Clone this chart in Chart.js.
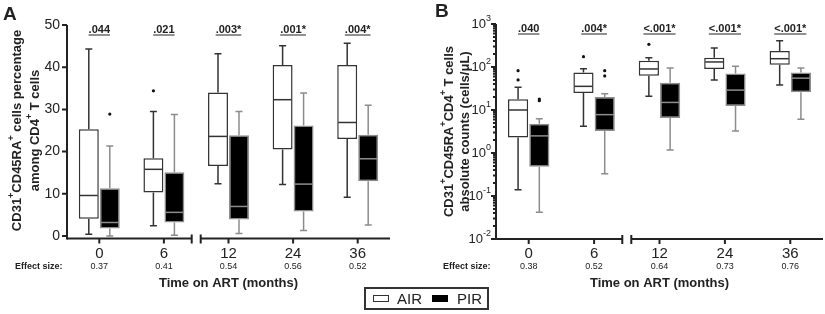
<!DOCTYPE html>
<html>
<head>
<meta charset="utf-8">
<script src="https://cdn.jsdelivr.net/npm/chart.js@4.4.1/dist/chart.umd.min.js"></script>
<style>
  body { margin: 0; background: #fff; width: 825px; height: 314px; overflow: hidden; position: relative;
         font-family: "Liberation Sans", Arial, sans-serif; color: #222; }
  #wrapA { position: absolute; left: 0; top: 0; }
  #wrapB { position: absolute; left: 410px; top: 0; }
  #legend { position: absolute; left: 364px; top: 287px; width: 121px; height: 19px; border: 2px solid #333;
            font-size: 15px; line-height: 19px; }
  #legend span { position: absolute; top: 0; }
  .sw { position: absolute; top: 6px; width: 16px; height: 7px; box-sizing: border-box; }
</style>
</head>
<body>
<div id="wrapA"><canvas id="chartA" width="410" height="314"></canvas></div>
<div id="wrapB"><canvas id="chartB" width="415" height="314"></canvas></div>
<div id="legend">
  <div class="sw" style="left:7px;border:1.5px solid #333;background:#fff"></div><span style="left:31px">AIR</span>
  <div class="sw" style="left:66px;background:#000"></div><span style="left:91px">PIR</span>
</div>
<script>
// categories and labels
const months = ['0', '6', '12', '24', '36'];
const effectA = ['0.37', '0.41', '0.54', '0.56', '0.52'];
const effectB = ['0.38', '0.52', '0.64', '0.73', '0.76'];
const pValA = ['.044', '.021', '.003*', '.001*', '.004*'];
const pValB = ['.040', '.004*', '<.001*', '<.001*', '<.001*'];

// panel A, % of CD4 T cells: [min, q1, median, q3, max]
const airPct = [[0.4, 4.1, 9.6, 25.3, 44.3], [2.4, 10.3, 15.8, 18.4, 29.5], [12.4, 16.6, 23.6, 34.0, 43.2],
                [12.2, 20.5, 32.3, 40.5, 45.1], [9.2, 23.0, 26.9, 40.5, 45.7]];
const pirPct = [[0, 1.8, 3.2, 11.3, 21.3], [0.2, 3.2, 5.6, 15.1, 28.8], [0.6, 3.9, 7.0, 23.9, 29.5],
                [1.3, 5.8, 12.3, 26.2, 33.9], [2.6, 13.0, 18.3, 24.0, 31.0]];
const airPctOut = [[], [34.4], [], [], []];
const pirPctOut = [[28.9], [], [], [], []];

// panel B, cells/uL: [min, q1, median, q3, max]
const airAbs = [[0.14, 2.3, 10, 17.7, 34], [4.2, 25, 35.5, 74, 91], [21, 63, 90, 140, 165],
                [50, 90, 131, 165, 277], [38, 113, 156, 235, 409]];
const pirAbs = [[0.042, 0.48, 2.5, 4.8, 6.3], [0.33, 3.25, 7.8, 20, 24], [1.17, 6.5, 15, 43, 95],
                [3.25, 12.4, 29, 71, 104], [6.1, 26, 55, 74, 95]];
const airAbsOut = [[82, 50], [174], [336], [], []];
const pirAbsOut = [[18, 16.5], [82, 62], [], [], []];

const pctTicks = [0, 10, 20, 30, 40, 50];
const logExp = [-2, -1, 0, 1, 2, 3];

const FONT = '"Liberation Sans", Arial, sans-serif';
const AIR_LINE = '#333', PIR_LINE = '#8c8c8c';

// text with ^sup^ parts
function drawRich(ctx, str, x, y, size, weight, align) {
  const parts = str.split('^');
  let w = 0;
  parts.forEach((t, k) => {
    ctx.font = `${weight} ${k % 2 ? Math.round(size * 0.7) : size}px ${FONT}`;
    w += ctx.measureText(t).width;
  });
  let cx = align === 'right' ? x - w : align === 'center' ? x - w / 2 : x;
  ctx.textAlign = 'left';
  ctx.textBaseline = 'middle';
  parts.forEach((t, k) => {
    ctx.font = `${weight} ${k % 2 ? Math.round(size * 0.7) : size}px ${FONT}`;
    ctx.fillText(t, cx, k % 2 ? y - size * 0.42 : y);
    cx += ctx.measureText(t).width;
  });
}

function text(ctx, str, x, y, size, weight, align) {
  ctx.font = `${weight} ${size}px ${FONT}`;
  ctx.textAlign = align || 'center';
  ctx.textBaseline = 'middle';
  ctx.fillText(str, x, y);
}

function makePlugin(cfg) {
  return {
    id: 'boxes',
    afterDatasetsDraw(chart) {
      const ctx = chart.ctx, ys = chart.scales.y;
      cfg.series.forEach((s, di) => {
        chart.getDatasetMeta(di).data.forEach((bar, i) => {
          const [mn, q1, md, q3, mx] = s.stats[i];
          const cx = bar.x, hw = bar.width / 2, cap = 3.5;
          ctx.save();
          ctx.strokeStyle = s.line;
          ctx.lineWidth = 1.5;
          ctx.beginPath();
          ctx.moveTo(cx, ys.getPixelForValue(q3)); ctx.lineTo(cx, ys.getPixelForValue(mx));
          ctx.moveTo(cx - cap, ys.getPixelForValue(mx)); ctx.lineTo(cx + cap, ys.getPixelForValue(mx));
          ctx.moveTo(cx, ys.getPixelForValue(q1)); ctx.lineTo(cx, ys.getPixelForValue(mn));
          ctx.moveTo(cx - cap, ys.getPixelForValue(mn)); ctx.lineTo(cx + cap, ys.getPixelForValue(mn));
          ctx.stroke();
          ctx.beginPath();
          ctx.moveTo(cx - hw + 1, ys.getPixelForValue(md)); ctx.lineTo(cx + hw - 1, ys.getPixelForValue(md));
          ctx.stroke();
          ctx.fillStyle = '#111';
          s.out[i].forEach(v => {
            ctx.beginPath();
            ctx.arc(cx, ys.getPixelForValue(v), 1.6, 0, Math.PI * 2);
            ctx.fill();
          });
          ctx.restore();
        });
      });
    },
    afterDraw(chart) {
      const ctx = chart.ctx, xs = chart.scales.x, ys = chart.scales.y, a = chart.chartArea;
      const axisY = a.bottom + cfg.axisDrop;
      ctx.save();
      ctx.strokeStyle = '#222';
      ctx.fillStyle = '#222';
      ctx.lineWidth = 2;
      // y axis
      ctx.beginPath();
      ctx.moveTo(a.left, a.top); ctx.lineTo(a.left, axisY + 1);
      cfg.yTicks(ctx, ys, a);
      ctx.stroke();
      // x axis with break between 6 and 12
      const brk = (xs.getPixelForValue(1) + xs.getPixelForValue(2)) / 2;
      ctx.beginPath();
      ctx.moveTo(a.left, axisY); ctx.lineTo(brk - 4.5, axisY);
      ctx.moveTo(brk - 4.5, axisY - 4); ctx.lineTo(brk - 4.5, axisY + 5);
      ctx.moveTo(brk + 4.5, axisY - 4); ctx.lineTo(brk + 4.5, axisY + 5);
      ctx.moveTo(brk + 4.5, axisY); ctx.lineTo(a.right, axisY);
      months.forEach((m, i) => {
        const x = xs.getPixelForValue(i);
        ctx.moveTo(x, axisY); ctx.lineTo(x, axisY + 5);
      });
      ctx.stroke();
      // tick labels, effect sizes, p-values
      months.forEach((m, i) => {
        const x = xs.getPixelForValue(i);
        text(ctx, m, x, 254, 15, 'normal');
        text(ctx, cfg.effect[i], x, 267, 9, 'normal');
        ctx.font = `bold 11px ${FONT}`;
        const w = ctx.measureText(cfg.pVals[i]).width;
        text(ctx, cfg.pVals[i], x, cfg.pY, 11, 'bold');
        ctx.lineWidth = 1;
        ctx.beginPath();
        ctx.moveTo(x - w / 2, cfg.pY + 5); ctx.lineTo(x + w / 2, cfg.pY + 5);
        ctx.stroke();
      });
      text(ctx, 'Effect size:', cfg.effX, 267, 9, 'bold', 'left');
      text(ctx, 'Time on ART (months)', (a.left + a.right) / 2, 283, 13, 'bold');
      text(ctx, cfg.letter, cfg.letterX, cfg.letterY, 19, 'bold', 'left');
      // y title
      const cy = (a.top + a.bottom) / 2;
      cfg.yTitle.forEach((line, k) => {
        ctx.save();
        ctx.translate(cfg.yTitleX[k], cy);
        ctx.rotate(-Math.PI / 2);
        drawRich(ctx, line, 0, 0, 13, 'bold', 'center');
        ctx.restore();
      });
      ctx.restore();
    }
  };
}

function boxDatasets(air, pir) {
  const common = { borderWidth: 1.5, borderSkipped: false, categoryPercentage: 0.65, barPercentage: 0.95 };
  return [
    Object.assign({ label: 'AIR', data: air.map(b => [b[1], b[3]]), backgroundColor: '#fff', borderColor: AIR_LINE }, common),
    Object.assign({ label: 'PIR', data: pir.map(b => [b[1], b[3]]), backgroundColor: '#000', borderColor: PIR_LINE }, common)
  ];
}

const baseOptions = (yScale, padding) => ({
  responsive: false,
  animation: false,
  layout: { padding: padding },
  plugins: { legend: { display: false }, tooltip: { enabled: false } },
  scales: { x: { display: false, offset: true }, y: yScale }
});

new Chart(document.getElementById('chartA'), {
  type: 'bar',
  data: { labels: months, datasets: boxDatasets(airPct, pirPct) },
  options: baseOptions({ display: false, min: 0, max: 50 }, { left: 67, right: 20, top: 25, bottom: 78 }),
  plugins: [makePlugin({
    series: [{ stats: airPct, out: airPctOut, line: AIR_LINE }, { stats: pirPct, out: pirPctOut, line: PIR_LINE }],
    axisDrop: 2.5, effect: effectA, pVals: pValA, pY: 30, effX: 15,
    letter: 'A', letterX: 3, letterY: 15,
    yTitle: ['CD31^+^CD45RA^+^ cells percentage', 'among CD4^+^ T cells'], yTitleX: [17, 35],
    yTicks(ctx, ys, a) {
      pctTicks.forEach(v => {
        const y = ys.getPixelForValue(v);
        ctx.moveTo(a.left - 5, y); ctx.lineTo(a.left, y);
        text(ctx, String(v), a.left - 7, y, 14, 'normal', 'right');
      });
    }
  })]
});

new Chart(document.getElementById('chartB'), {
  type: 'bar',
  data: { labels: months, datasets: boxDatasets(airAbs, pirAbs) },
  options: baseOptions({ display: false, type: 'logarithmic', min: 0.01, max: 1000 }, { left: 86, right: 2, top: 24, bottom: 75 }),
  plugins: [makePlugin({
    series: [{ stats: airAbs, out: airAbsOut, line: AIR_LINE }, { stats: pirAbs, out: pirAbsOut, line: PIR_LINE }],
    axisDrop: 0, effect: effectB, pVals: pValB, pY: 29, effX: 33,
    letter: 'B', letterX: 25, letterY: 12,
    yTitle: ['CD31^+^CD45RA^+^CD4^+^ T cells', 'absolute counts (cells/μL)'], yTitleX: [39, 55],
    yTicks(ctx, ys, a) {
      logExp.forEach(e => {
        const y = ys.getPixelForValue(Math.pow(10, e));
        ctx.moveTo(a.left - 5, y); ctx.lineTo(a.left, y);
        drawRich(ctx, '10^' + (e < 0 ? '-' + (-e) : e) + '^', a.left - 5, y, 13, 'normal', 'right');
        if (e < 3) {
          for (let m = 2; m < 10; m++) {
            const ym = ys.getPixelForValue(m * Math.pow(10, e));
            ctx.moveTo(a.left - 3, ym); ctx.lineTo(a.left, ym);
          }
        }
      });
    }
  })]
});
</script>
</body>
</html>
